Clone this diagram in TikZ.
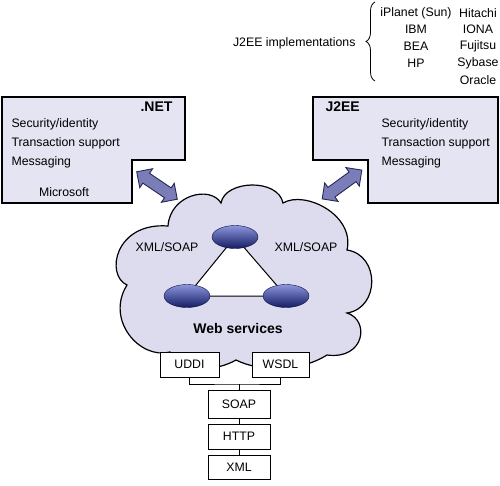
\documentclass[tikz,border=0pt]{standalone}
\usepackage{fontspec}
\setmainfont{Liberation Sans}
\usetikzlibrary{positioning,shapes.geometric,shapes.arrows,decorations.pathreplacing}
\definecolor{boxfill}{RGB}{228,228,242}
\definecolor{cloudfill}{RGB}{220,220,238}
\definecolor{arrowfill}{RGB}{123,125,185}
\definecolor{arrowline}{RGB}{40,40,85}
\definecolor{nodelight}{RGB}{140,150,220}
\definecolor{nodedark}{RGB}{20,28,100}

\begin{document}
\begin{tikzpicture}[x=1pt,y=-1pt,
    every node/.style={font=\fontsize{12.3}{14}\selectfont},
    title/.style={font=\fontsize{14}{16}\selectfont\bfseries},
    platform/.style={draw,fill=boxfill,line width=1.5pt,line join=miter},
    layer/.style={draw,fill=white,line width=1pt,inner sep=0pt,minimum height=25pt},
    service/.style={ellipse,draw=nodedark!70!black,top color=nodelight,bottom color=nodedark,
        minimum width=46pt,minimum height=23pt,inner sep=0pt},
    link/.style={double arrow,draw=arrowline,fill=arrowfill,line width=0.9pt,
        minimum height=49pt,inner sep=5.5pt,double arrow head extend=5.5pt}]
    \useasboundingbox (0,0) rectangle (500,485);

    % implementations list
    \node[anchor=east] (impl) at (359,43) {J2EE implementations};
    \draw[decorate,decoration={brace,amplitude=9pt},line width=0.8pt] (375,81) -- (375,2);
    \foreach \vendor [count=\i] in {iPlanet (Sun),IBM,BEA,HP} {
        \node (left\i) at (416,-3.7+16.7*\i) {\vendor};
    }
    \foreach \vendor [count=\i] in {Hitachi,IONA,Fujitsu,Sybase,Oracle} {
        \node (right\i) at (478,-3.7+16.7*\i) {\vendor};
    }

    % platforms
    \draw[platform] (2,97) -- (185,97) -- (185,160) -- (132,160) -- (132,203) -- (2,203) -- cycle;
    \draw[platform] (313,97) -- (498,97) -- (498,203) -- (368,203) -- (368,160) -- (313,160) -- cycle;
    \node[title,anchor=east] (net) at (176,107) {.NET};
    \node[anchor=west] (netsec) at (8,124) {Security/identity};
    \node[anchor=west] (nettx) at (8,143) {Transaction support};
    \node[anchor=west] (netmsg) at (8,162) {Messaging};
    \node (ms) at (64,192) {Microsoft};
    \node[title,anchor=west] (jee) at (322,107) {J2EE};
    \node[anchor=west] (jeesec) at (378,124) {Security/identity};
    \node[anchor=west] (jeetx) at (378,143) {Transaction support};
    \node[anchor=west] (jeemsg) at (378,162) {Messaging};

    % cloud
    \draw[fill=cloudfill,line width=1.2pt] (170,352) .. controls (140,360) and (105,320) .. (127,285)
        .. controls (105,275) and (115,222) .. (168,226)
        .. controls (170,195) and (210,185) .. (221,203)
        .. controls (225,180) and (278,178) .. (283,203)
        .. controls (305,190) and (355,215) .. (347,250)
        .. controls (380,255) and (380,308) .. (347,313)
        .. controls (370,320) and (365,360) .. (327,355)
        .. controls (300,372) and (260,372) .. (236,360)
        .. controls (215,372) and (185,372) .. cycle;
    \node[link,rotate=-34] (netlink) at (157,185.5) {};
    \node[link,rotate=36] (jeelink) at (342,184.5) {};

    % web services
    \coordinate (ptop) at (235,237);
    \coordinate (pleft) at (187,296);
    \coordinate (pright) at (286,296);
    \draw[fill=white,line width=1pt] (ptop) -- (pleft) -- (pright) -- cycle;
    \node[service] (svctop) at (ptop) {};
    \node[service] (svcleft) at (pleft) {};
    \node[service] (svcright) at (pright) {};
    \node (soapl) at (167,247) {XML/SOAP};
    \node (soapr) at (306,247) {XML/SOAP};
    \node[title] (ws) at (238,328) {Web services};

    % protocol stack
    \node[layer,minimum width=59pt] (uddi) at (189.5,364.5) {UDDI};
    \node[layer,minimum width=57pt] (wsdl) at (280.5,364.5) {WSDL};
    \node[layer,minimum width=62pt,minimum height=28pt] (soap) at (239,404) {SOAP};
    \node[layer,minimum width=62pt,below=5pt of soap] (http) {HTTP};
    \node[layer,minimum width=62pt,minimum height=24pt,below=5pt of http] (xml) {XML};
    \coordinate (bus) at (239,384);
    \draw (uddi.south) |- (bus) -| (wsdl.south);
    \draw (bus) -- (soap.north);
    \draw (soap) -- (http);
    \draw (http) -- (xml);
\end{tikzpicture}
\end{document}
